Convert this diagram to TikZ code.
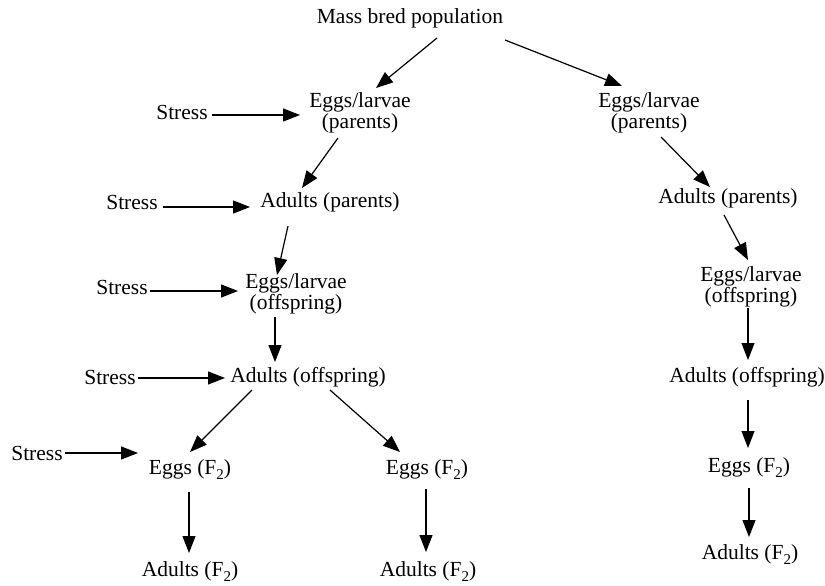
\documentclass[tikz,border=0pt]{standalone}
\usepackage{fontspec}
\setmainfont{Liberation Serif}
\usetikzlibrary{arrows.meta,calc}
\newcommand{\subtwo}{\raisebox{-5pt}{\fontsize{15}{15}\selectfont 2}}
\begin{document}
\begin{tikzpicture}[x=1pt,y=-1pt,
  lbl/.style={inner sep=0pt,align=center,font=\fontsize{21.5}{21}\selectfont},
  arr/.style={-{Triangle[length=17pt,width=13pt]},line width=1.2pt}]
\useasboundingbox (0,0) rectangle (825,586);
% nodes
\node[lbl] (mass) at (410,18) {Mass bred population};
\node[lbl] (elpL) at (360,113) {Eggs/larvae\\(parents)};
\node[lbl] (elpR) at (649,113) {Eggs/larvae\\(parents)};
\node[lbl] (sA) at (182,112) {Stress};
\node[lbl] (apL) at (330,202) {Adults (parents)};
\node[lbl] (sB) at (132,202) {Stress};
\node[lbl] (eloL) at (296,294) {Eggs/larvae\\(offspring)};
\node[lbl] (sC) at (122,287) {Stress};
\node[lbl] (aoL) at (308,377) {Adults (offspring)};
\node[lbl] (sD) at (110,377) {Stress};
\node[lbl] (efL) at (190,470) {Eggs (F\subtwo)};
\node[lbl] (sE) at (37,453) {Stress};
\node[lbl] (efM) at (427,470) {Eggs (F\subtwo)};
\node[lbl] (afL) at (190,572) {Adults (F\subtwo)};
\node[lbl] (afM) at (428,572) {Adults (F\subtwo)};
\node[lbl] (apR) at (728,198) {Adults (parents)};
\node[lbl] (eloR) at (751,287) {Eggs/larvae\\(offspring)};
\node[lbl] (aoR) at (747,377) {Adults (offspring)};
\node[lbl] (efR) at (749,468) {Eggs (F\subtwo)};
\node[lbl] (afR) at (750,555) {Adults (F\subtwo)};
% connectors
\draw[arr] ($(mass)+(27,20)$) -- ($(elpL)+(16,-25)$);
\draw[arr] ($(mass)+(95,22)$) -- ($(elpR)+(-27,-27)$);
\draw[arr] ($(sA)+(30,3)$) -- ($(elpL)+(-60,2)$);
\draw[arr] ($(elpL)+(-22,25)$) -- ($(apL)+(-28,-14)$);
\draw[arr] ($(sB)+(31,5)$) -- ($(apL)+(-80,5)$);
\draw[arr] ($(apL)+(-42,24)$) -- ($(eloL)+(-19,-19)$);
\draw[arr] ($(sC)+(28,4)$) -- ($(eloL)+(-58,-3)$);
\draw[arr] ($(eloL)+(-21,23)$) -- ($(aoL)+(-33,-15)$);
\draw[arr] ($(sD)+(28,1)$) -- ($(aoL)+(-83,1)$);
\draw[arr] ($(aoL)+(-56,13)$) -- ($(efL)+(0,-18)$);
\draw[arr] ($(aoL)+(22,13)$) -- ($(efM)+(-27,-18)$);
\draw[arr] ($(sE)+(28,0)$) -- ($(efL)+(-52,-17)$);
\draw[arr] ($(efL)+(-1,22)$) -- ($(afL)+(-1,-19)$);
\draw[arr] ($(efM)+(-1,19)$) -- ($(afM)+(-2,-20)$);
\draw[arr] ($(elpR)+(12,24)$) -- ($(apR)+(-18,-11)$);
\draw[arr] ($(apR)+(-4,17)$) -- ($(eloR)+(-3,-27)$);
\draw[arr] ($(eloR)+(-3,21)$) -- ($(aoR)+(1,-17)$);
\draw[arr] ($(aoR)+(1,23)$) -- ($(efR)+(-1,-20)$);
\draw[arr] ($(efR)+(0,20)$) -- ($(afR)+(-1,-18)$);
\end{tikzpicture}
\end{document}
